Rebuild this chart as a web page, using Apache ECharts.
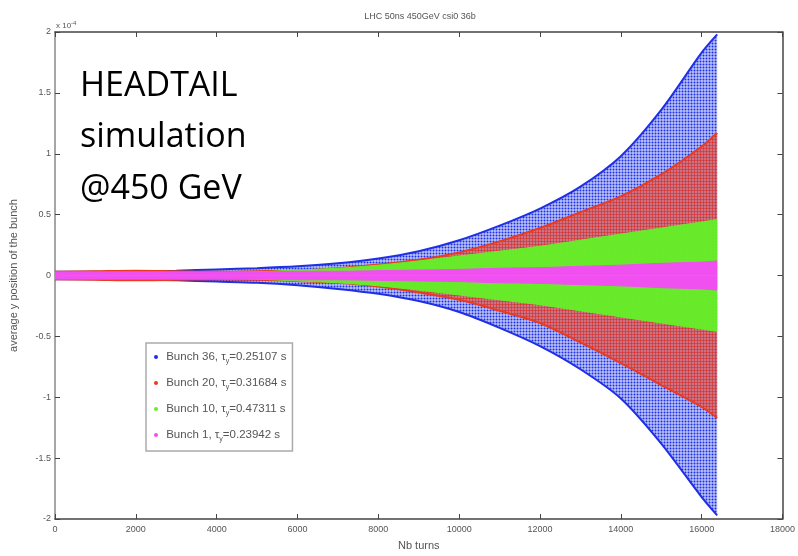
<!DOCTYPE html>
<html>
<head>
<meta charset="utf-8">
<script src="https://cdn.jsdelivr.net/npm/echarts@6/dist/echarts.min.js"></script>
<style>
html,body{margin:0;padding:0;background:#fff;}
#chart{width:798px;height:556px;}
</style>
</head>
<body>
<div id="chart"></div>
<script>
// ---- data (y in units of 1e-4) ----
var turns = [0, 1000, 2000, 3000, 4000, 5000, 6000, 7000, 8000, 9000, 10000, 11000, 12000, 13000, 14000, 15000, 16000, 16384];
var bunchNames = ['Bunch 36', 'Bunch 20', 'Bunch 10', 'Bunch 1'];
var tauValues = ['0.25107', '0.31684', '0.47311', '0.23942'];
var b36Upper = [0.03, 0.03, 0.035, 0.04, 0.05, 0.06, 0.075, 0.10, 0.14, 0.20, 0.29, 0.41, 0.55, 0.73, 0.98, 1.36, 1.83, 1.98];
var b36Lower = [-0.03, -0.03, -0.035, -0.04, -0.05, -0.06, -0.08, -0.11, -0.15, -0.21, -0.30, -0.43, -0.58, -0.77, -1.01, -1.38, -1.82, -1.97];
var b20Upper = [0.03, 0.035, 0.04, 0.035, 0.03, 0.035, 0.04, 0.06, 0.09, 0.13, 0.19, 0.28, 0.39, 0.52, 0.65, 0.83, 1.06, 1.17];
var b20Lower = [-0.03, -0.035, -0.04, -0.035, -0.03, -0.035, -0.045, -0.06, -0.09, -0.14, -0.20, -0.29, -0.39, -0.55, -0.72, -0.90, -1.08, -1.17];
var b10Upper = [0.02, 0.02, 0.02, 0.02, 0.025, 0.03, 0.045, 0.06, 0.085, 0.12, 0.16, 0.20, 0.24, 0.29, 0.34, 0.39, 0.44, 0.46];
var b10Lower = [-0.02, -0.02, -0.02, -0.02, -0.025, -0.03, -0.045, -0.06, -0.085, -0.12, -0.16, -0.20, -0.24, -0.29, -0.34, -0.39, -0.44, -0.46];
var b1Upper = [0.03, 0.03, 0.03, 0.03, 0.03, 0.03, 0.035, 0.035, 0.04, 0.045, 0.05, 0.06, 0.065, 0.075, 0.085, 0.10, 0.11, 0.12];
var b1Lower = [-0.03, -0.03, -0.03, -0.03, -0.03, -0.03, -0.035, -0.035, -0.04, -0.045, -0.05, -0.06, -0.065, -0.075, -0.085, -0.10, -0.11, -0.12];
var xTicks = [0, 2000, 4000, 6000, 8000, 10000, 12000, 14000, 16000, 18000];
var yTicks = ['2', '1.5', '1', '0.5', '0', '-0.5', '-1', '-1.5', '-2'];

function pattern(dot, bg, cell, r) {
  var c = document.createElement('canvas');
  c.width = cell; c.height = cell;
  var g = c.getContext('2d');
  g.fillStyle = bg; g.fillRect(0, 0, cell, cell);
  g.fillStyle = dot;
  g.beginPath(); g.arc(cell / 2, cell / 2, r, 0, Math.PI * 2); g.fill();
  return {image: c, repeat: 'repeat'};
}
function pairs(ys) { return turns.map(function (t, i) { return [t, ys[i]]; }); }

var colors = ['#1f2fe6', '#ea3a20', '#66ee2a', '#f050f0'];
var fills = [
  pattern('rgba(20,40,230,0.95)', 'rgba(60,80,235,0.35)', 3, 1.0),
  pattern('rgba(235,50,25,0.95)', 'rgba(235,60,30,0.5)', 3, 1.0),
  'rgba(100,238,40,0.97)',
  'rgba(240,80,240,1)'
];
var uppers = [b36Upper, b20Upper, b10Upper, b1Upper];
var lowers = [b36Lower, b20Lower, b10Lower, b1Lower];

var series = [];
for (var k = 0; k < 4; k++) {
  [uppers[k], lowers[k]].forEach(function (arr) {
    series.push({
      type: 'line', name: bunchNames[k], data: pairs(arr), smooth: 0.3,
      showSymbol: false, symbol: 'circle', z: 2 + k,
      color: colors[k],
      lineStyle: {color: colors[k], width: k < 2 ? 2 : 1},
      areaStyle: {color: fills[k], opacity: 1, origin: 0}
    });
  });
}

var chart = echarts.init(document.getElementById('chart'));
var axisCol = '#444';
var labelStyle = {color: '#555', fontSize: 9, fontFamily: 'Liberation Sans'};
chart.setOption({
  animation: false,
  backgroundColor: '#fff',
  title: {text: 'LHC 50ns 450GeV csi0 36b', left: 415, top: 7, textAlign: 'center',
    textStyle: {fontSize: 9, fontWeight: 'normal', color: '#555', fontFamily: 'Liberation Sans'}},
  grid: {left: 53, right: 15, top: 32, bottom: 36},
  legend: {
    orient: 'vertical', left: 146, top: 343, icon: 'circle', itemWidth: 4, itemHeight: 4,
    itemGap: 12, padding: [8, 6, 8, 8], borderColor: '#aaa', borderWidth: 1.5, backgroundColor: '#fff',
    data: bunchNames,
    formatter: function (n) { return ' ' + n + ', {t|τ}{s|y}=' + tauValues[bunchNames.indexOf(n)] + ' s'; },
    textStyle: {fontSize: 11.5, color: '#555', fontFamily: 'Liberation Sans',
      rich: {t: {fontSize: 11.5, color: '#555'}, s: {fontSize: 7, color: '#555', padding: [9, 0, 0, 0]}}}
  },
  xAxis: [{
    type: 'value', min: 0, max: 18000, interval: 2000, name: 'Nb turns', nameLocation: 'middle', nameGap: 21,
    nameTextStyle: {fontSize: 11, color: '#555', fontFamily: 'Liberation Sans'},
    axisLine: {onZero: false, lineStyle: {color: axisCol, width: 1.5}}, axisTick: {inside: true, length: 5, lineStyle: {color: axisCol}},
    axisLabel: Object.assign({margin: 6, formatter: function (v) { return String(xTicks[xTicks.indexOf(v)]); }}, labelStyle),
    splitLine: {show: false}
  }, {
    type: 'value', position: 'top', min: 0, max: 18000, interval: 2000,
    axisLine: {onZero: false, lineStyle: {color: axisCol, width: 1.5}}, axisTick: {inside: true, length: 5, lineStyle: {color: axisCol}},
    axisLabel: {show: false}, splitLine: {show: false}
  }],
  yAxis: [{
    type: 'value', min: -2, max: 2, interval: 0.5, name: 'average y position of the bunch', nameLocation: 'middle', nameGap: 36,
    nameTextStyle: {fontSize: 11, color: '#555', fontFamily: 'Liberation Sans'},
    axisLine: {onZero: false, lineStyle: {color: '#888', width: 1.5}}, axisTick: {inside: true, length: 5, lineStyle: {color: axisCol}},
    axisLabel: Object.assign({margin: 4, formatter: function (v) { return yTicks[Math.round((2 - v) / 0.5)]; }}, labelStyle),
    splitLine: {show: false}
  }, {
    type: 'value', position: 'right', min: -2, max: 2, interval: 0.5,
    axisLine: {onZero: false, lineStyle: {color: axisCol, width: 1.5}}, axisTick: {inside: true, length: 5, lineStyle: {color: axisCol}},
    axisLabel: {show: false}, splitLine: {show: false}
  }],
  graphic: [
    {type: 'text', left: 56, top: 20, z: 100, style: {text: 'x 10{s|-4}', fill: '#555', font: '8px "Liberation Sans"',
      rich: {s: {fontSize: 6, fill: '#555', padding: [0, 0, 6, 0]}}}},
    {type: 'text', x: 80, y: 86, z: 100, style: {text: 'HEADTAIL', fill: '#000', font: '34px "Open Sans"', verticalAlign: 'middle'}},
    {type: 'text', x: 80, y: 137, z: 100, style: {text: 'simulation', fill: '#000', font: '34px "Open Sans"', verticalAlign: 'middle'}},
    {type: 'text', x: 80, y: 189, z: 100, style: {text: '@450 GeV', fill: '#000', font: '34px "Open Sans"', verticalAlign: 'middle'}}
  ],
  series: series
});
</script>
</body>
</html>
